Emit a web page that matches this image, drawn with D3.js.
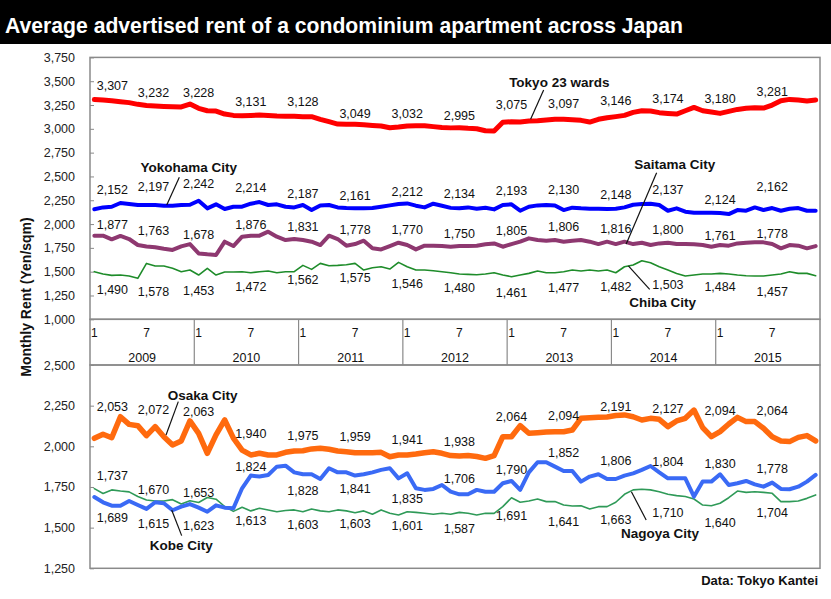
<!DOCTYPE html>
<html><head><meta charset="utf-8">
<script src="https://cdn.jsdelivr.net/npm/d3@7"></script>
<style>html,body{margin:0;padding:0;background:#fff;}svg{display:block;}</style>
</head><body>
<svg id="chart" width="831" height="599"></svg>
<script>
// ---------------- DATA ----------------
const years = ["2009","2010","2011","2012","2013","2014","2015"];
const monthTickLabels = ["1","7"];
const topTicks = [1000,1250,1500,1750,2000,2250,2500,2750,3000,3250,3500,3750];
const bottomTicks = [1250,1500,1750,2000,2250,2500];

const tokyo = [3307,3302,3295,3285,3275,3257,3246,3240,3235,3232,3230,3260,3215,3190,3187,3155,3141,3138,3141,3145,3141,3134,3131,3131,3128,3128,3100,3075,3050,3047,3047,3043,3036,3030,3012,3019,3030,3033,3033,3023,3015,3010,3012,3005,3001,2980,2977,3068,3075,3071,3082,3085,3092,3100,3100,3096,3089,3071,3100,3117,3128,3141,3173,3190,3187,3170,3162,3155,3190,3225,3190,3176,3162,3183,3204,3215,3222,3218,3250,3295,3309,3302,3292,3302];
const yokohama = [2155,2175,2182,2221,2210,2200,2200,2200,2193,2193,2200,2203,2245,2165,2207,2158,2182,2182,2214,2231,2200,2207,2182,2175,2200,2147,2196,2200,2175,2168,2165,2165,2168,2182,2196,2210,2217,2193,2175,2214,2193,2170,2165,2175,2161,2172,2154,2200,2207,2140,2182,2196,2200,2196,2147,2172,2165,2161,2161,2158,2161,2175,2203,2210,2214,2200,2140,2165,2130,2119,2119,2119,2116,2105,2147,2140,2175,2147,2168,2140,2161,2168,2140,2140];
const saitama = [1877,1878,1840,1875,1843,1780,1765,1756,1740,1728,1765,1790,1692,1682,1675,1815,1769,1867,1878,1878,1920,1867,1832,1843,1832,1815,1780,1878,1843,1773,1790,1825,1745,1734,1769,1804,1780,1734,1773,1773,1769,1762,1769,1769,1773,1787,1797,1762,1790,1815,1850,1832,1825,1832,1815,1825,1832,1815,1790,1815,1790,1815,1790,1804,1780,1797,1804,1790,1790,1787,1780,1762,1780,1773,1797,1804,1808,1808,1790,1745,1780,1773,1745,1769];
const chiba = [1500,1475,1461,1465,1454,1430,1587,1559,1559,1535,1500,1517,1465,1535,1465,1496,1496,1500,1489,1500,1507,1489,1500,1500,1566,1524,1587,1563,1566,1573,1587,1517,1542,1552,1528,1598,1552,1517,1517,1510,1500,1489,1475,1472,1468,1475,1489,1465,1447,1465,1482,1507,1489,1489,1500,1517,1507,1517,1507,1517,1489,1552,1570,1615,1594,1552,1517,1482,1454,1465,1475,1475,1482,1475,1465,1458,1454,1454,1465,1475,1500,1482,1482,1458];
const osaka = [2049,2074,2053,2182,2135,2127,2066,2121,2059,2008,2033,2156,2080,1957,2070,2162,2050,1977,1947,1957,1947,1947,1963,1971,1973,1984,1988,1982,1971,1967,1961,1961,1961,1963,1936,1947,1947,1953,1961,1967,1957,1943,1941,1943,1937,1926,1943,2059,2059,2127,2080,2084,2088,2090,2090,2100,2172,2176,2178,2180,2189,2193,2182,2162,2172,2166,2121,2156,2172,2223,2115,2059,2090,2137,2178,2152,2152,2111,2059,2033,2029,2055,2066,2033];
const kobe = [1688,1656,1635,1635,1664,1639,1615,1656,1650,1607,1629,1645,1623,1598,1637,1623,1619,1742,1820,1814,1824,1875,1881,1840,1828,1828,1799,1865,1840,1840,1820,1828,1840,1855,1865,1803,1834,1742,1732,1738,1762,1721,1705,1705,1732,1721,1721,1773,1787,1732,1840,1902,1902,1875,1848,1848,1783,1814,1828,1799,1799,1820,1834,1855,1879,1840,1803,1803,1803,1691,1783,1783,1828,1762,1773,1787,1766,1752,1777,1738,1736,1752,1783,1824];
const nagoya = [1740,1710,1732,1725,1720,1691,1670,1664,1664,1672,1645,1665,1655,1685,1675,1630,1600,1625,1603,1619,1609,1598,1605,1609,1598,1615,1603,1598,1609,1603,1592,1603,1582,1609,1588,1578,1598,1594,1588,1582,1588,1582,1594,1588,1578,1588,1588,1629,1684,1656,1664,1676,1660,1660,1639,1633,1635,1615,1629,1629,1656,1705,1732,1736,1732,1721,1705,1697,1691,1676,1639,1635,1650,1684,1725,1717,1721,1717,1711,1660,1660,1664,1680,1701];

// value labels shown every January and July
const labelMonths = [0,6,12,18,24,30,36,42,48,54,60,66,72,78];
const tokyoLabels = [3307,3232,3228,3131,3128,3049,3032,2995,3075,3097,3146,3174,3180,3281];
const yokohamaLabels = [2152,2197,2242,2214,2187,2161,2212,2134,2193,2130,2148,2137,2124,2162];
const saitamaLabels = [1877,1763,1678,1876,1831,1778,1770,1750,1805,1806,1816,1800,1761,1778];
const chibaLabels = [1490,1578,1453,1472,1562,1575,1546,1480,1461,1477,1482,1503,1484,1457];
const osakaLabels = [2053,2072,2063,1940,1975,1959,1941,1938,2064,2094,2191,2127,2094,2064];
const kobeLabels = [1689,1615,1623,1824,1828,1841,1835,1706,1790,1852,1806,1804,1830,1778];
const nagoyaLabels = [1737,1670,1653,1613,1603,1603,1601,1587,1691,1641,1663,1710,1640,1704];

// ---------------- LAYOUT / STYLE ----------------
const W = 831, H = 599;
const svg = d3.select("#chart");
const FONT = "'Liberation Sans', Arial, Helvetica, sans-serif";

const x = d3.scalePoint().domain(d3.range(84)).range([90, 820]).padding(0.5);
const yearBand = d3.scaleBand().domain(years).range([90, 820]);
const yTop = d3.scaleLinear().domain([1000, 3750]).range([319.3, 57.4]);
const yBot = d3.scaleLinear().domain([1250, 2500]).range([568.3, 365]);

const labelDx = [18,7,0,0,0,0,0,0,0,0,0,0,0,0];

const series = [
  {name:"Tokyo 23 wards", values:tokyo, labels:tokyoLabels, y:yTop, color:"#ff0000", width:5,
   dy:[-14,-14,-15,-15,-15,-11,-12,-14,-17,-16,-14,-14,-13,-11],
   ann:{at:[53.5,3495], from:[51.7,3407], to:[50.2,3100]}},
  {name:"Yokohama City", values:yokohama, labels:yokohamaLabels, y:yTop, color:"#0000ff", width:4,
   dy:[-20,-19,-18,-16,-13,-13,-12,-18,-15,-22,-15,-22,-13,-22],
   ann:{at:[10.87,2602], from:[9.78,2491], to:[8.33,2200]}},
  {name:"Saitama City", values:saitama, labels:saitamaLabels, y:yTop, color:"#8e3870", width:4,
   dy:[-11,-16,-20,-11,-14,-16,-16,-14,-12,-16,-13,-14,-11,-12],
   ann:{at:[66.8,2630], from:[64.7,2539], to:[61.2,1791]}},
  {name:"Chiba City", values:chiba, labels:chibaLabels, y:yTop, color:"#1e8c2a", width:1.6,
   dy:[17,27,14,12,14,13,16,14,17,14,13,13,13,16],
   ann:{at:[65.4,1185], from:[63.9,1315], to:[61.45,1560]}},
  {name:"Osaka City", values:osaka, labels:osakaLabels, y:yBot, color:"#ff6a0e", width:5.5,
   dy:[-31,-25,-25,-23,-15,-16,-16,-15,-19,-16,-9,-17,-21,-25],
   ann:{at:[12.45,2316], from:[9.66,2275], to:[8.25,2070]}},
  {name:"Nagoya City", values:nagoya, labels:nagoyaLabels, y:yBot, color:"#2f9a58", width:1.6,
   dy:[-14,-10,-10,11,14,13,14,15,19,17,18,19,18,18],
   ann:{at:[65.1,1469], from:[63.5,1547], to:[61.8,1721]}},
  {name:"Kobe City", values:kobe, labels:kobeLabels, y:yBot, color:"#3a6af5", width:4,
   dy:[21,15,18,-8,16,16,25,-16,-11,-18,-17,-17,-10,-14],
   ann:{at:[10.0,1394], from:[10.05,1451], to:[8.9,1609]}}
];

// ---------------- TITLE ----------------
svg.append("rect").attr("x",0).attr("y",0).attr("width",W).attr("height",44).attr("fill","#000");
svg.append("text").attr("x",5).attr("y",33)
  .attr("font-family",FONT).attr("font-weight","bold").attr("font-size",22)
  .attr("fill","#fff").attr("textLength",678).attr("lengthAdjust","spacingAndGlyphs")
  .text("Average advertised rent of a condominium apartment across Japan");

// ---------------- FRAMES ----------------
const frameColor = "#8a8a8a";
function frame(y0, y1){
  svg.append("rect").attr("x",90).attr("y",y0).attr("width",730).attr("height",y1-y0)
    .attr("fill","none").attr("stroke",frameColor).attr("stroke-width",1.5);
}
frame(yTop(3750), yTop(1000));
frame(yBot(2500), yBot(1250));
frame(yTop(1000), yBot(2500));

// year separators & labels
const axisBox = svg.append("g");
years.forEach((yr,k)=>{
  if(k>0){
    axisBox.append("line").attr("x1",yearBand(yr)).attr("x2",yearBand(yr))
      .attr("y1",yTop(1000)).attr("y2",yBot(2500)).attr("stroke",frameColor).attr("stroke-width",1.2);
  }
  monthTickLabels.forEach(m=>{
    axisBox.append("text").attr("x",x(k*12 + (+m) - 1)).attr("y",337)
      .attr("text-anchor","middle").attr("font-family",FONT).attr("font-size",12).attr("fill","#111").text(m);
  });
  axisBox.append("text").attr("x",yearBand(yr)+yearBand.bandwidth()/2).attr("y",361.5)
    .attr("text-anchor","middle").attr("font-family",FONT).attr("font-size",12.5).attr("fill","#111").text(yr);
});

// ---------------- Y AXES ----------------
function yAxis(scale, ticks){
  const g = svg.append("g").attr("transform","translate(90,0)")
    .call(d3.axisLeft(scale).tickValues(ticks).tickFormat(d3.format(",")).tickSize(-4).tickPadding(15));
  g.select(".domain").remove();
  g.selectAll(".tick line").attr("stroke",frameColor).attr("stroke-width",1);
  g.selectAll(".tick text").attr("font-family",FONT).attr("font-size",12.5).attr("fill","#222");
}
yAxis(yTop, topTicks);
yAxis(yBot, bottomTicks);

svg.append("text").attr("transform","translate(26,297) rotate(-90)")
  .attr("text-anchor","middle").attr("dominant-baseline","central")
  .attr("font-family",FONT).attr("font-weight","bold").attr("font-size",14).attr("fill","#111")
  .text("Monthly Rent (Yen/sqm)");

// ---------------- LINES ----------------
series.forEach(s=>{
  const line = d3.line().x((d,i)=>x(i)).y(d=>s.y(d));
  svg.append("path").datum(s.values).attr("d",line)
    .attr("fill","none").attr("stroke",s.color).attr("stroke-width",s.width)
    .attr("stroke-linejoin","round").attr("stroke-linecap","round");
});

// ---------------- VALUE LABELS ----------------
const fmt = d3.format(",");
series.forEach(s=>{
  s.labels.forEach((v,k)=>{
    svg.append("text").attr("x",x(labelMonths[k]) + labelDx[k]).attr("y",s.y(v) + s.dy[k])
      .attr("dy","0.36em").attr("text-anchor","middle")
      .attr("font-family",FONT).attr("font-size",12.5).attr("fill","#111").text(fmt(v));
  });
});

// ---------------- SERIES NAMES ----------------
series.forEach(s=>{
  const a = s.ann;
  svg.append("line").attr("x1",x.step()*a.from[0] + x(0)).attr("y1",s.y(a.from[1]))
    .attr("x2",x.step()*a.to[0] + x(0)).attr("y2",s.y(a.to[1]))
    .attr("stroke","#111").attr("stroke-width",1.2);
  svg.append("text").attr("x",x.step()*a.at[0] + x(0)).attr("y",s.y(a.at[1]))
    .attr("dy","0.36em").attr("text-anchor","middle")
    .attr("font-family",FONT).attr("font-weight","bold").attr("font-size",13.5).attr("fill","#111")
    .text(s.name);
});

svg.append("text").attr("x",818).attr("y",580).attr("dy","0.36em").attr("text-anchor","end")
  .attr("font-family",FONT).attr("font-weight","bold").attr("font-size",13).attr("fill","#111")
  .text("Data: Tokyo Kantei");
</script>
</body></html>
